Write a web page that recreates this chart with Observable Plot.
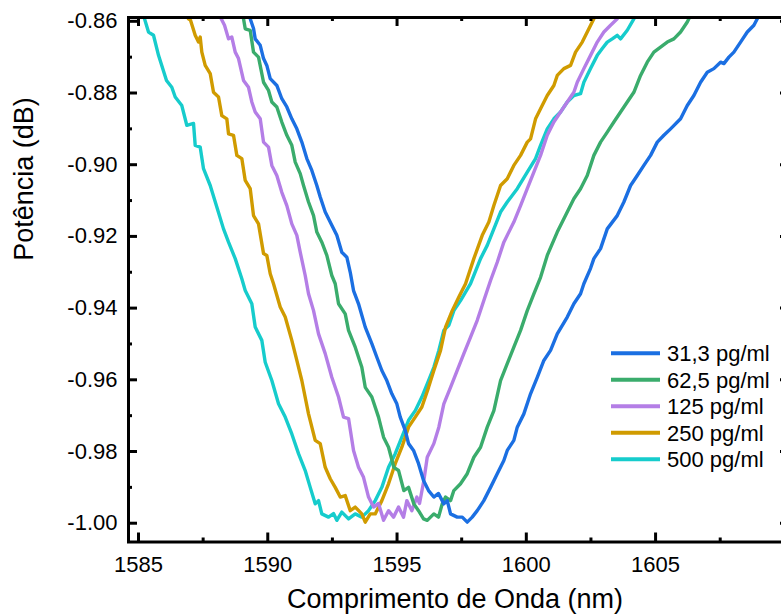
<!DOCTYPE html>
<html>
<head>
<meta charset="utf-8">
<script src="https://cdn.jsdelivr.net/npm/d3@7"></script>
<script src="https://cdn.jsdelivr.net/npm/@observablehq/plot@0.6"></script>
<style>
  html, body { margin: 0; padding: 0; background: #fff; }
  #chart { width: 781px; height: 615px; }
</style>
</head>
<body>
<div id="chart"></div>
<script>
// ---- data (wavelength nm, power dB) ----
const seriesLabels = ["31,3 pg/ml", "62,5 pg/ml", "125 pg/ml", "250 pg/ml", "500 pg/ml"];
const seriesColors = ["#1b6fe2", "#3aac6c", "#b47ee6", "#d09b00", "#16cccc"];

const s313 = [[1589.321,-0.8593],[1589.449,-0.8620],[1589.514,-0.8649],[1589.708,-0.8667],[1589.836,-0.8704],[1589.963,-0.8723],[1590.095,-0.8760],[1590.350,-0.8779],[1590.543,-0.8816],[1590.737,-0.8839],[1590.930,-0.8872],[1591.124,-0.8900],[1591.317,-0.8937],[1591.511,-0.8983],[1591.704,-0.9016],[1591.897,-0.9058],[1592.029,-0.9090],[1592.222,-0.9132],[1592.477,-0.9169],[1592.671,-0.9197],[1592.864,-0.9244],[1593.058,-0.9258],[1593.190,-0.9300],[1593.317,-0.9351],[1593.510,-0.9388],[1593.770,-0.9453],[1594.025,-0.9499],[1594.219,-0.9537],[1594.412,-0.9574],[1594.605,-0.9602],[1594.799,-0.9639],[1594.992,-0.9667],[1595.124,-0.9704],[1595.317,-0.9741],[1595.445,-0.9778],[1595.638,-0.9797],[1595.832,-0.9834],[1596.025,-0.9881],[1596.219,-0.9909],[1596.423,-0.9927],[1596.605,-0.9917],[1596.810,-0.9946],[1596.942,-0.9937],[1597.069,-0.9974],[1597.328,-0.9983],[1597.522,-0.9983],[1597.715,-0.9997],[1597.908,-0.9983],[1598.102,-0.9965],[1598.357,-0.9937],[1598.617,-0.9900],[1598.876,-0.9862],[1599.131,-0.9825],[1599.263,-0.9797],[1599.518,-0.9769],[1599.650,-0.9732],[1599.905,-0.9695],[1600.164,-0.9639],[1600.424,-0.9593],[1600.679,-0.9546],[1600.938,-0.9518],[1601.197,-0.9472],[1601.584,-0.9425],[1601.839,-0.9388],[1602.098,-0.9360],[1602.226,-0.9332],[1602.485,-0.9289],[1602.613,-0.9262],[1602.872,-0.9234],[1603.131,-0.9179],[1603.518,-0.9142],[1603.774,-0.9104],[1604.033,-0.9058],[1604.292,-0.9030],[1604.547,-0.9002],[1604.807,-0.8974],[1605.066,-0.8937],[1605.321,-0.8918],[1605.580,-0.8900],[1605.967,-0.8872],[1606.226,-0.8835],[1606.481,-0.8807],[1606.741,-0.8770],[1607.000,-0.8742],[1607.255,-0.8732],[1607.514,-0.8714],[1607.642,-0.8718],[1607.836,-0.8700],[1608.029,-0.8686],[1608.288,-0.8658],[1608.547,-0.8630],[1608.803,-0.8611],[1608.934,-0.8593]];

const s625 = [[1589.062,-0.8593],[1589.128,-0.8621],[1589.321,-0.8625],[1589.449,-0.8686],[1589.642,-0.8700],[1589.836,-0.8770],[1590.029,-0.8793],[1590.157,-0.8825],[1590.350,-0.8839],[1590.543,-0.8881],[1590.737,-0.8918],[1590.930,-0.8946],[1591.062,-0.8993],[1591.255,-0.9025],[1591.383,-0.9058],[1591.576,-0.9104],[1591.770,-0.9142],[1591.897,-0.9188],[1592.090,-0.9216],[1592.284,-0.9253],[1592.477,-0.9309],[1592.609,-0.9332],[1592.737,-0.9388],[1592.996,-0.9416],[1593.124,-0.9462],[1593.383,-0.9509],[1593.638,-0.9565],[1593.770,-0.9621],[1594.025,-0.9648],[1594.284,-0.9704],[1594.478,-0.9760],[1594.671,-0.9788],[1594.876,-0.9844],[1595.058,-0.9853],[1595.263,-0.9909],[1595.445,-0.9900],[1595.650,-0.9946],[1595.832,-0.9965],[1596.025,-0.9988],[1596.168,-0.9992],[1596.423,-0.9974],[1596.605,-0.9983],[1596.748,-0.9946],[1596.876,-0.9927],[1597.069,-0.9937],[1597.197,-0.9909],[1597.456,-0.9890],[1597.715,-0.9862],[1597.971,-0.9816],[1598.230,-0.9788],[1598.489,-0.9732],[1598.745,-0.9686],[1599.004,-0.9602],[1599.263,-0.9555],[1599.518,-0.9509],[1599.778,-0.9462],[1600.037,-0.9407],[1600.292,-0.9360],[1600.551,-0.9314],[1600.810,-0.9253],[1601.197,-0.9188],[1601.453,-0.9151],[1601.839,-0.9095],[1602.098,-0.9067],[1602.357,-0.9030],[1602.613,-0.8974],[1602.872,-0.8937],[1603.131,-0.8909],[1603.387,-0.8881],[1603.646,-0.8853],[1603.905,-0.8825],[1604.160,-0.8798],[1604.419,-0.8751],[1604.678,-0.8714],[1604.934,-0.8686],[1605.193,-0.8672],[1605.452,-0.8658],[1605.708,-0.8649],[1605.967,-0.8630],[1606.226,-0.8602],[1606.288,-0.8593]];

const s125 = [[1588.199,-0.8593],[1588.327,-0.8611],[1588.482,-0.8649],[1588.609,-0.8644],[1588.741,-0.8686],[1588.868,-0.8704],[1589.062,-0.8765],[1589.255,-0.8784],[1589.383,-0.8825],[1589.514,-0.8853],[1589.708,-0.8872],[1589.836,-0.8937],[1590.029,-0.8951],[1590.157,-0.9002],[1590.350,-0.9030],[1590.543,-0.9077],[1590.737,-0.9114],[1590.930,-0.9165],[1591.124,-0.9197],[1591.255,-0.9244],[1591.448,-0.9309],[1591.576,-0.9360],[1591.770,-0.9407],[1591.963,-0.9472],[1592.222,-0.9527],[1592.477,-0.9593],[1592.737,-0.9648],[1592.930,-0.9704],[1593.124,-0.9708],[1593.317,-0.9797],[1593.510,-0.9844],[1593.704,-0.9872],[1593.897,-0.9927],[1594.091,-0.9955],[1594.284,-0.9945],[1594.478,-0.9992],[1594.671,-0.9965],[1594.865,-0.9983],[1595.058,-0.9955],[1595.251,-0.9983],[1595.379,-0.9937],[1595.573,-0.9965],[1595.766,-0.9927],[1595.870,-0.9945],[1596.037,-0.9881],[1596.168,-0.9816],[1596.423,-0.9778],[1596.617,-0.9732],[1596.810,-0.9667],[1597.069,-0.9621],[1597.328,-0.9574],[1597.584,-0.9527],[1597.843,-0.9481],[1598.102,-0.9434],[1598.357,-0.9379],[1598.617,-0.9323],[1598.876,-0.9272],[1599.131,-0.9216],[1599.518,-0.9160],[1599.778,-0.9114],[1600.037,-0.9067],[1600.292,-0.9021],[1600.551,-0.8974],[1600.810,-0.8918],[1601.066,-0.8881],[1601.325,-0.8853],[1601.584,-0.8825],[1601.839,-0.8798],[1601.971,-0.8770],[1602.226,-0.8732],[1602.485,-0.8695],[1602.744,-0.8658],[1603.000,-0.8630],[1603.259,-0.8611],[1603.518,-0.8593]];

const s250 = [[1586.934,-0.8593],[1587.012,-0.8597],[1587.193,-0.8639],[1587.321,-0.8658],[1587.387,-0.8644],[1587.449,-0.8686],[1587.580,-0.8723],[1587.774,-0.8746],[1587.901,-0.8798],[1588.095,-0.8811],[1588.222,-0.8863],[1588.416,-0.8872],[1588.482,-0.8914],[1588.675,-0.8918],[1588.803,-0.8974],[1588.996,-0.8983],[1589.128,-0.9044],[1589.321,-0.9067],[1589.449,-0.9142],[1589.642,-0.9165],[1589.836,-0.9248],[1589.963,-0.9253],[1590.095,-0.9304],[1590.222,-0.9332],[1590.481,-0.9397],[1590.675,-0.9425],[1590.930,-0.9490],[1591.124,-0.9546],[1591.317,-0.9602],[1591.576,-0.9695],[1591.835,-0.9769],[1592.029,-0.9778],[1592.222,-0.9844],[1592.416,-0.9876],[1592.609,-0.9900],[1592.803,-0.9927],[1592.996,-0.9923],[1593.190,-0.9965],[1593.383,-0.9955],[1593.638,-0.9974],[1593.770,-0.9997],[1593.963,-0.9974],[1594.156,-0.9974],[1594.412,-0.9937],[1594.671,-0.9890],[1594.930,-0.9834],[1595.186,-0.9788],[1595.445,-0.9732],[1595.704,-0.9704],[1595.960,-0.9676],[1596.219,-0.9621],[1596.423,-0.9574],[1596.683,-0.9518],[1596.876,-0.9453],[1597.135,-0.9407],[1597.391,-0.9369],[1597.650,-0.9332],[1597.971,-0.9262],[1598.296,-0.9197],[1598.551,-0.9160],[1598.745,-0.9114],[1599.004,-0.9058],[1599.263,-0.9039],[1599.518,-0.9002],[1599.778,-0.8974],[1600.037,-0.8937],[1600.164,-0.8928],[1600.358,-0.8872],[1600.551,-0.8844],[1600.810,-0.8807],[1601.066,-0.8779],[1601.197,-0.8751],[1601.453,-0.8732],[1601.712,-0.8723],[1601.905,-0.8686],[1602.164,-0.8658],[1602.357,-0.8630],[1602.613,-0.8593]];

const s500 = [[1585.232,-0.8593],[1585.387,-0.8630],[1585.580,-0.8639],[1585.774,-0.8695],[1586.083,-0.8765],[1586.288,-0.8784],[1586.420,-0.8811],[1586.675,-0.8835],[1586.868,-0.8890],[1587.128,-0.8885],[1587.193,-0.8946],[1587.387,-0.8951],[1587.514,-0.9011],[1587.774,-0.9058],[1588.029,-0.9118],[1588.288,-0.9179],[1588.482,-0.9216],[1588.741,-0.9262],[1588.996,-0.9318],[1589.128,-0.9351],[1589.383,-0.9388],[1589.514,-0.9453],[1589.770,-0.9490],[1589.901,-0.9551],[1590.157,-0.9602],[1590.416,-0.9667],[1590.675,-0.9704],[1590.930,-0.9751],[1591.189,-0.9806],[1591.448,-0.9853],[1591.642,-0.9900],[1591.835,-0.9946],[1591.963,-0.9937],[1592.090,-0.9974],[1592.350,-0.9983],[1592.543,-0.9973],[1592.671,-0.9992],[1592.864,-0.9969],[1593.124,-0.9988],[1593.383,-0.9974],[1593.638,-0.9983],[1593.897,-0.9965],[1594.156,-0.9937],[1594.412,-0.9900],[1594.671,-0.9844],[1594.930,-0.9806],[1595.186,-0.9760],[1595.445,-0.9713],[1595.704,-0.9686],[1595.960,-0.9648],[1596.219,-0.9602],[1596.423,-0.9565],[1596.617,-0.9518],[1596.810,-0.9462],[1597.004,-0.9448],[1597.197,-0.9407],[1597.456,-0.9379],[1597.843,-0.9332],[1598.230,-0.9262],[1598.489,-0.9225],[1598.745,-0.9179],[1599.004,-0.9132],[1599.263,-0.9104],[1599.650,-0.9067],[1600.037,-0.9021],[1600.358,-0.8983],[1600.551,-0.8946],[1600.810,-0.8900],[1601.066,-0.8872],[1601.325,-0.8853],[1601.584,-0.8825],[1601.839,-0.8807],[1602.098,-0.8802],[1602.226,-0.8770],[1602.485,-0.8732],[1602.744,-0.8695],[1602.938,-0.8676],[1603.131,-0.8658],[1603.324,-0.8649],[1603.518,-0.8639],[1603.646,-0.8649],[1603.905,-0.8625],[1604.160,-0.8593]];

const seriesData = [s313, s625, s125, s250, s500];

const xMajorTicks = [1585, 1590, 1595, 1600, 1605];
const xMinorTicks = [1587.5, 1592.5, 1597.5, 1602.5, 1607.5];
const yMajorTicks = [-1.00, -0.98, -0.96, -0.94, -0.92, -0.90, -0.88, -0.86];
const yMinorTicks = [-0.99, -0.97, -0.95, -0.93, -0.91, -0.89, -0.87];
const xDomain = [1584.613, 1610.18];
const yDomain = [-1.00524, -0.85894];
const xTitle = "Comprimento de Onda (nm)";
const yTitle = "Potência (dB)";

// ---- layout ----
const W = 781, H = 615;
const mL = 128, mR = -8, mT = 17, mB = 73.5;
const plotW = W - mL - mR, plotH = H - mT - mB;
const majLen = 9, minLen = 4;

const lineMarks = seriesData.map((s, i) =>
  Plot.line(s, {x: d => d[0], y: d => d[1], stroke: seriesColors[i], strokeWidth: 3.4, clip: true, strokeLinejoin: "round"})
).reverse();

const chart = Plot.plot({
  width: W, height: H,
  marginLeft: mL, marginRight: mR, marginTop: mT, marginBottom: mB,
  x: {domain: xDomain},
  y: {domain: yDomain},
  style: {fontFamily: "'Liberation Sans', Arial, sans-serif", fontSize: "22px", background: "white", color: "black", overflow: "hidden"},
  marks: [
    ...lineMarks,
    Plot.frame({stroke: "black", strokeWidth: 3}),
    // bottom ticks
    Plot.tickX(xMajorTicks, {x: d => d, insetTop: plotH - majLen, strokeWidth: 3, stroke: "black"}),
    Plot.tickX(xMinorTicks, {x: d => d, insetTop: plotH - minLen, strokeWidth: 3, stroke: "black"}),
    // top ticks
    Plot.tickX(xMajorTicks, {x: d => d, insetBottom: plotH - majLen, strokeWidth: 3, stroke: "black"}),
    Plot.tickX(xMinorTicks, {x: d => d, insetBottom: plotH - minLen, strokeWidth: 3, stroke: "black"}),
    // left ticks
    Plot.tickY(yMajorTicks, {y: d => d, insetRight: plotW - majLen, strokeWidth: 3, stroke: "black"}),
    Plot.tickY(yMinorTicks, {y: d => d, insetRight: plotW - minLen, strokeWidth: 3, stroke: "black"}),
    // right ticks
    Plot.tickY(yMajorTicks, {y: d => d, insetLeft: plotW - majLen, strokeWidth: 3, stroke: "black"}),
    Plot.tickY(yMinorTicks, {y: d => d, insetLeft: plotW - minLen, strokeWidth: 3, stroke: "black"}),
    Plot.axisX(xMajorTicks, {tickSize: 0, tickPadding: 14, label: null, tickFormat: d => String(d)}),
    Plot.axisY(yMajorTicks, {tickSize: 0, tickPadding: 11, label: null, tickFormat: d => d.toFixed(2)}),
    Plot.text([xTitle], {text: d => d, frameAnchor: "bottom", lineAnchor: "middle", dx: -4, dy: 57.5, fontSize: 27}),
    Plot.text([yTitle], {text: d => d, frameAnchor: "left", lineAnchor: "middle", rotate: -90, dx: -104, dy: -19, fontSize: 27})
  ]
});

// legend
const svg = d3.select(chart);
const lg = svg.append("g").attr("class", "legend").attr("text-anchor", "start");
seriesLabels.forEach((lab, i) => {
  const cy = 353.3 + i * 26.5;
  lg.append("line").attr("x1", 611).attr("x2", 660).attr("y1", cy).attr("y2", cy)
    .attr("stroke", seriesColors[i]).attr("stroke-width", 4);
  lg.append("text").attr("x", 667).attr("y", cy + 7.8).attr("font-size", 22)
    .attr("text-anchor", "start").attr("fill", "black").text(lab);
});

document.getElementById("chart").appendChild(chart);
</script>
</body>
</html>
